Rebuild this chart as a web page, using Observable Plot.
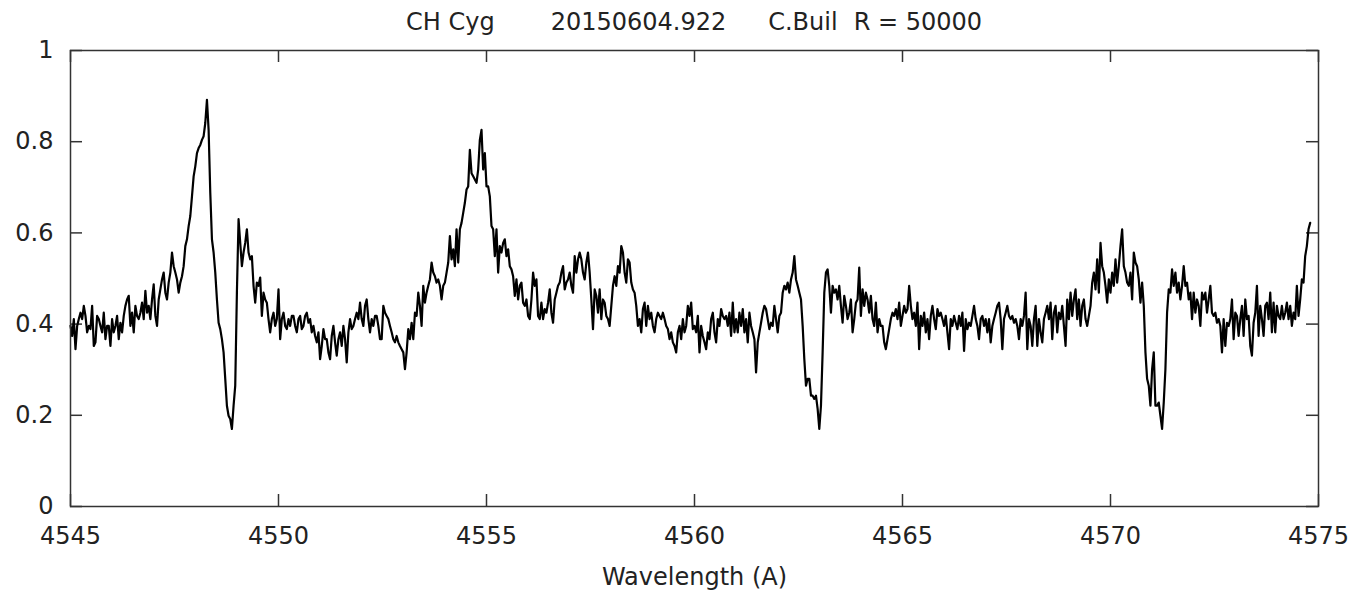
<!DOCTYPE html>
<html>
<head>
<meta charset="utf-8">
<script src="https://cdn.jsdelivr.net/npm/d3@7"></script>
<script src="https://cdn.jsdelivr.net/npm/@observablehq/plot@0.6"></script>
<style>
  body { margin: 0; background: #fff; font-family: "DejaVu Sans", Verdana, sans-serif; }
  #title {
    box-sizing: border-box; width: 1357px; height: 34px; padding-left: 31px;
    line-height: 44px; text-align: center; font-size: 24px; color: #222; white-space: pre;
  }
  #title span + span { margin-left: 16px; }
  #title .date { margin-left: 56px !important; }
  #title .observer { margin-left: 42px !important; }
  #chart svg { overflow: visible; display: block; }
</style>
</head>
<body>
<div id="title"></div>
<div id="chart"></div>
<script>
// Header fields of the observation
const starName = "CH Cyg";
const observationDate = "20150604.922";
const observer = "C.Buil";
const resolution = "R = 50000";

// Axis ticks
const xTicks = [4545, 4550, 4555, 4560, 4565, 4570, 4575];
const yTicks = [0, 0.2, 0.4, 0.6, 0.8, 1];

// Spectrum sampling (linear dispersion, Angstrom)
const startWavelength = 4545.0;
const stepWavelength = 0.04;

// Relative flux, one value per sample
const flux = [
  // 4545.00 – 4548.60
  0.396,0.374,0.411,0.345,0.396,0.411,0.425,0.411,0.440,0.418,
  0.382,0.396,0.389,0.440,0.352,0.360,0.418,0.411,0.396,0.382,
  0.425,0.367,0.396,0.396,0.352,0.411,0.382,0.396,0.418,0.367,
  0.403,0.382,0.418,0.440,0.454,0.462,0.396,0.425,0.382,0.440,
  0.418,0.411,0.425,0.447,0.411,0.473,0.425,0.440,0.411,0.454,
  0.487,0.418,0.396,0.454,0.476,0.498,0.513,0.469,0.454,0.491,
  0.513,0.557,0.527,0.513,0.498,0.469,0.491,0.505,0.527,0.571,
  0.586,0.615,0.637,0.680,0.724,0.746,0.775,0.786,0.793,0.804,
  0.812,0.841,0.892,0.826,0.688,0.586,0.557,0.513,0.454,0.403,
  0.389,
  // 4548.64 – 4552.44
  0.367,0.338,0.280,0.221,0.199,0.192,0.170,0.221,0.265,0.469,
  0.630,0.578,0.527,0.557,0.578,0.608,0.557,0.542,0.549,0.484,
  0.447,0.491,0.484,0.502,0.418,0.469,0.454,0.447,0.411,0.382,
  0.411,0.425,0.396,0.411,0.476,0.367,0.411,0.425,0.396,0.389,
  0.411,0.396,0.418,0.418,0.396,0.382,0.411,0.418,0.389,0.396,
  0.418,0.425,0.403,0.411,0.382,0.396,0.374,0.360,0.382,0.323,
  0.352,0.389,0.367,0.367,0.338,0.323,0.374,0.396,0.360,0.331,
  0.367,0.382,0.352,0.396,0.367,0.316,0.382,0.411,0.389,0.396,
  0.411,0.425,0.411,0.447,0.411,0.396,0.440,0.454,0.411,0.382,
  0.411,0.396,0.418,0.418,0.396,0.367,
  // 4552.48 – 4556.12
  0.367,0.440,0.425,0.418,0.411,0.396,0.382,0.367,0.360,0.374,
  0.360,0.352,0.345,0.338,0.301,0.338,0.389,0.367,0.403,0.367,
  0.425,0.418,0.469,0.440,0.396,0.484,0.447,0.469,0.484,0.498,
  0.535,0.513,0.505,0.491,0.498,0.484,0.454,0.484,0.491,0.513,
  0.535,0.593,0.542,0.564,0.527,0.608,0.535,0.608,0.622,0.644,
  0.666,0.695,0.702,0.782,0.731,0.724,0.717,0.710,0.739,0.804,
  0.826,0.739,0.775,0.702,0.702,0.680,0.615,0.608,0.549,0.608,
  0.513,0.571,0.557,0.578,0.586,0.549,0.564,0.527,0.520,0.505,
  0.462,0.498,0.454,0.484,0.491,0.447,0.440,0.454,0.418,0.411,
  0.454,0.513,
  // 4556.16 – 4559.88
  0.484,0.498,0.418,0.411,0.447,0.411,0.433,0.425,0.447,0.476,
  0.425,0.403,0.454,0.469,0.484,0.491,0.513,0.527,0.476,0.491,
  0.498,0.513,0.484,0.469,0.549,0.513,0.542,0.557,0.542,0.513,
  0.498,0.535,0.557,0.513,0.454,0.389,0.476,0.462,0.425,0.476,
  0.411,0.454,0.447,0.418,0.411,0.396,0.440,0.484,0.505,0.484,
  0.527,0.513,0.571,0.557,0.513,0.491,0.542,0.535,0.491,0.476,
  0.469,0.440,0.396,0.411,0.382,0.433,0.447,0.396,0.440,0.411,
  0.425,0.396,0.382,0.411,0.425,0.418,0.411,0.425,0.411,0.396,
  0.389,0.367,0.382,0.360,0.352,0.338,0.382,0.396,0.367,0.411,
  0.382,0.396,0.440,0.418,
  // 4559.92 – 4563.60
  0.447,0.389,0.396,0.382,0.418,0.338,0.396,0.374,0.360,0.345,
  0.382,0.367,0.411,0.425,0.382,0.360,0.411,0.396,0.433,0.418,
  0.411,0.418,0.396,0.425,0.374,0.447,0.382,0.411,0.382,0.425,
  0.396,0.433,0.382,0.411,0.360,0.425,0.396,0.382,0.367,0.294,
  0.360,0.382,0.403,0.425,0.440,0.433,0.411,0.389,0.403,0.396,
  0.440,0.411,0.382,0.418,0.425,0.469,0.484,0.476,0.491,0.469,
  0.498,0.513,0.549,0.498,0.484,0.469,0.454,0.396,0.323,0.265,
  0.280,0.280,0.243,0.243,0.236,0.243,0.214,0.170,0.221,0.338,
  0.469,0.513,0.520,0.484,0.425,0.484,0.469,0.476,0.454,0.484,
  0.440,0.403,0.462,
  // 4563.64 – 4567.32
  0.440,0.411,0.425,0.454,0.382,0.411,0.447,0.454,0.524,0.418,
  0.476,0.440,0.469,0.454,0.425,0.462,0.411,0.396,0.447,0.382,
  0.411,0.396,0.396,0.360,0.345,0.367,0.389,0.411,0.425,0.418,
  0.433,0.411,0.447,0.396,0.418,0.440,0.425,0.433,0.484,0.440,
  0.411,0.425,0.396,0.447,0.345,0.418,0.396,0.425,0.382,0.411,
  0.367,0.418,0.440,0.411,0.389,0.433,0.418,0.425,0.411,0.396,
  0.418,0.382,0.345,0.411,0.396,0.418,0.403,0.389,0.418,0.396,
  0.425,0.341,0.411,0.389,0.403,0.396,0.418,0.440,0.411,0.396,
  0.367,0.411,0.418,0.396,0.411,0.382,0.411,0.360,0.396,0.411,
  0.425,0.440,0.447,
  // 4567.36 – 4571.08
  0.411,0.345,0.411,0.425,0.440,0.418,0.411,0.418,0.403,0.411,
  0.396,0.367,0.411,0.396,0.418,0.469,0.345,0.411,0.396,0.352,
  0.411,0.440,0.352,0.411,0.382,0.360,0.411,0.425,0.440,0.411,
  0.447,0.367,0.425,0.440,0.382,0.425,0.411,0.440,0.396,0.352,
  0.454,0.411,0.469,0.418,0.454,0.476,0.411,0.454,0.396,0.440,
  0.454,0.411,0.396,0.418,0.440,0.491,0.513,0.476,0.542,0.469,
  0.578,0.527,0.513,0.484,0.447,0.498,0.469,0.513,0.484,0.542,
  0.491,0.527,0.571,0.608,0.527,0.513,0.491,0.484,0.513,0.454,
  0.557,0.535,0.527,0.498,0.447,0.491,0.440,0.338,0.280,0.265,
  0.221,0.301,0.338,0.221,
  // 4571.12 – 4574.80
  0.221,0.228,0.199,0.170,0.228,0.301,0.425,0.476,0.469,0.520,
  0.484,0.513,0.469,0.491,0.454,0.484,0.527,0.484,0.491,0.454,
  0.469,0.411,0.469,0.425,0.454,0.440,0.396,0.469,0.454,0.469,
  0.425,0.454,0.484,0.425,0.418,0.425,0.403,0.411,0.396,0.338,
  0.411,0.352,0.403,0.396,0.411,0.454,0.367,0.425,0.418,0.374,
  0.411,0.440,0.374,0.454,0.411,0.418,0.352,0.331,0.403,0.425,
  0.484,0.374,0.440,0.411,0.374,0.440,0.447,0.411,0.469,0.382,
  0.447,0.382,0.440,0.418,0.411,0.440,0.411,0.425,0.447,0.411,
  0.440,0.396,0.425,0.411,0.484,0.418,0.454,0.498,0.491,0.549,
  0.571,0.608,0.622
];

const spectrum = flux.map((f, i) => ({
  wavelength: startWavelength + i * stepWavelength,
  flux: f
}));

// Title line with its field spacing
const title = document.getElementById("title");
[["star", starName], ["date", observationDate], ["observer", observer], ["res", resolution]]
  .forEach(([cls, text]) => {
    const s = document.createElement("span");
    s.className = cls;
    s.textContent = text;
    title.appendChild(s);
  });

const width = 1357, height = 557;
const margin = {top: 16, right: 39, bottom: 85, left: 70};
const innerW = width - margin.left - margin.right;
const innerH = height - margin.top - margin.bottom;
const tickLen = 12;
const axisColor = "#333";

const chart = Plot.plot({
  width, height,
  marginTop: margin.top, marginRight: margin.right,
  marginBottom: margin.bottom, marginLeft: margin.left,
  style: {fontFamily: "'DejaVu Sans', Verdana, sans-serif", fontSize: "24px", color: "#222", background: "#fff", overflow: "visible"},
  x: {domain: [4545, 4575]},
  y: {domain: [0, 1]},
  marks: [
    // inward ticks on all four sides
    Plot.ruleY(yTicks, {insetRight: innerW - tickLen, stroke: axisColor, strokeWidth: 1.5}),
    Plot.ruleY(yTicks, {insetLeft: innerW - tickLen, stroke: axisColor, strokeWidth: 1.5}),
    Plot.ruleX(xTicks, {insetTop: innerH - tickLen, stroke: axisColor, strokeWidth: 1.5}),
    Plot.ruleX(xTicks, {insetBottom: innerH - tickLen, stroke: axisColor, strokeWidth: 1.5}),
    Plot.axisY(yTicks, {tickSize: 0, tickPadding: 17, tickFormat: d => String(d), label: null}),
    Plot.axisX(xTicks, {
      tickSize: 0, tickPadding: 20, tickFormat: d => String(d),
      label: "Wavelength (A)", labelAnchor: "center", labelArrow: "none", labelOffset: 78
    }),
    Plot.line(spectrum, {x: "wavelength", y: "flux", stroke: "#000", strokeWidth: 2.2, strokeLinejoin: "round"}),
    Plot.frame({stroke: axisColor, strokeWidth: 1.5})
  ]
});
document.getElementById("chart").appendChild(chart);
</script>
</body>
</html>
